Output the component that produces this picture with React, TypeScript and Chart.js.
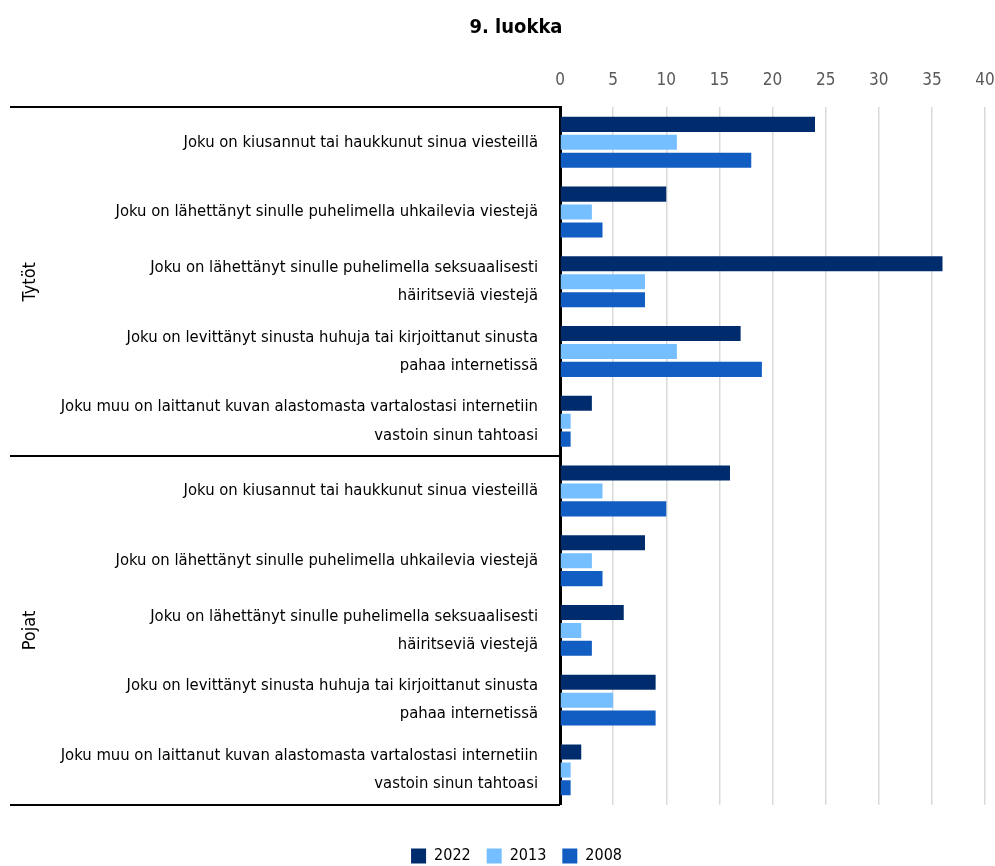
import React, { useEffect, useRef } from "react";
import { Chart, registerables } from "chart.js";

Chart.register(...registerables);

const titleText = "9. luokka";
const groups = ["Tytöt", "Pojat"];
const categories: string[][] = [
  ["Joku on kiusannut tai haukkunut sinua viesteillä"],
  ["Joku on lähettänyt sinulle puhelimella uhkailevia viestejä"],
  ["Joku on lähettänyt sinulle puhelimella seksuaalisesti", "häiritseviä viestejä"],
  ["Joku on levittänyt sinusta huhuja tai kirjoittanut sinusta", "pahaa internetissä"],
  ["Joku muu on laittanut kuvan alastomasta vartalostasi internetiin", "vastoin sinun tahtoasi"],
  ["Joku on kiusannut tai haukkunut sinua viesteillä"],
  ["Joku on lähettänyt sinulle puhelimella uhkailevia viestejä"],
  ["Joku on lähettänyt sinulle puhelimella seksuaalisesti", "häiritseviä viestejä"],
  ["Joku on levittänyt sinusta huhuja tai kirjoittanut sinusta", "pahaa internetissä"],
  ["Joku muu on laittanut kuvan alastomasta vartalostasi internetiin", "vastoin sinun tahtoasi"],
];
const seriesNames = ["2022", "2013", "2008"];
const values2022 = [24, 10, 36, 17, 3, 16, 8, 6, 9, 2];
const values2013 = [11, 3, 8, 11, 1, 4, 3, 2, 5, 1];
const values2008 = [18, 4, 8, 19, 1, 10, 4, 3, 9, 1];
const xMin = 0;
const xMax = 40;
const xStep = 5;

const FONT = "'Liberation Sans Narrow', 'DejaVu Sans Condensed', 'Roboto Condensed', sans-serif";

const groupPlugin = {
  id: "groupPlugin",
  afterDraw(chart: any) {
    const { ctx, chartArea, scales } = chart;
    const y = scales.y;
    const n = categories.length;
    const per = n / groups.length;
    const pos = (i: number) => y.getPixelForTick(i);
    const boundaries: number[] = [chartArea.top];
    for (let g = 1; g < groups.length; g++) {
      boundaries.push((pos(g * per - 1) + pos(g * per)) / 2);
    }
    boundaries.push(chartArea.bottom);
    ctx.save();
    ctx.strokeStyle = "#000";
    ctx.lineWidth = 2;
    boundaries.forEach((b) => {
      ctx.beginPath();
      ctx.moveTo(10, Math.round(b));
      ctx.lineTo(chartArea.left, Math.round(b));
      ctx.stroke();
    });
    ctx.fillStyle = "#000";
    ctx.font = `18px ${FONT}`;
    ctx.textAlign = "center";
    ctx.textBaseline = "middle";
    groups.forEach((g, i) => {
      const mid = (boundaries[i] + boundaries[i + 1]) / 2;
      ctx.save();
      ctx.translate(30, mid);
      ctx.rotate(-Math.PI / 2);
      ctx.fillText(g, 0, 0);
      ctx.restore();
    });
    // chart title
    ctx.font = `bold 20px ${FONT}`;
    ctx.textAlign = "center";
    ctx.textBaseline = "middle";
    ctx.fillText(titleText, 516, 28);
    ctx.restore();
  },
};

export default function App() {
  const ref = useRef<HTMLCanvasElement | null>(null);
  useEffect(() => {
    document.body.style.margin = "0";
    if (!ref.current) return;
    const chart = new Chart(ref.current, {
      type: "bar",
      data: {
        labels: categories,
        datasets: [
          { label: seriesNames[0], data: values2022, backgroundColor: "#002C6E" },
          { label: seriesNames[1], data: values2013, backgroundColor: "#75BEFF" },
          { label: seriesNames[2], data: values2008, backgroundColor: "#125DC2" },
        ],
      },
      options: {
        animation: false,
        responsive: false,
        indexAxis: "y",
        layout: { padding: { left: 38, right: 0, top: 53, bottom: -8 } },
        datasets: {
          bar: { categoryPercentage: 0.77, barPercentage: 0.84 },
        },
        plugins: {
          title: { display: false },
          legend: {
            position: "bottom",
            title: {
              display: true,
              text: "",
              font: { size: 1 },
              padding: { top: 0, bottom: 26 },
            },
            labels: {
              boxWidth: 15,
              boxHeight: 15,
              color: "#000",
              padding: 16,
              font: { family: FONT, size: 16 },
            },
          },
          tooltip: { enabled: false },
        },
        scales: {
          x: {
            position: "top",
            min: xMin,
            max: xMax,
            afterFit: (s: any) => {
              s.paddingRight = 10;
              s.paddingLeft = 0;
            },
            ticks: { stepSize: xStep, color: "#595959", font: { family: FONT, size: 17 }, padding: 17 },
            grid: { color: "#d9d9d9", drawTicks: false, lineWidth: 1.5 },
            border: { display: false },
          },
          y: {
            afterFit: (s: any) => {
              s.width = 522;
            },
            ticks: {
              autoSkip: false,
              color: "#000",
              padding: 22,
              font: { family: FONT, size: 16.5, lineHeight: 1.7 },
            },
            grid: { display: false, drawTicks: false },
            border: { color: "#000", width: 3 },
          },
        },
      },
      plugins: [groupPlugin],
    } as any);
    return () => chart.destroy();
  }, []);
  return (
    <div style={{ width: 995, height: 866 }}>
      <canvas ref={ref} width={995} height={866} />
    </div>
  );
}
